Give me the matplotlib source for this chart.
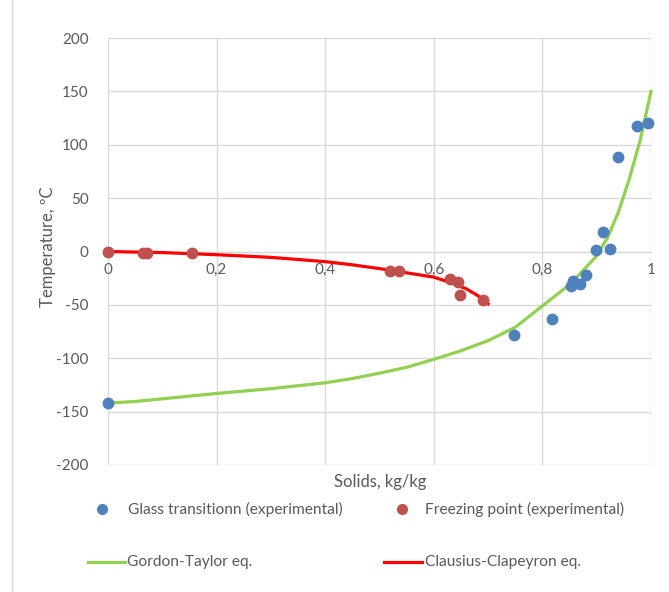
import matplotlib
matplotlib.use("Agg")
import matplotlib.pyplot as plt
from matplotlib.lines import Line2D
from matplotlib.ticker import FuncFormatter

# Experimental data
glass_x = [0.0, 0.748, 0.818, 0.852, 0.857, 0.869, 0.880, 0.899, 0.912, 0.924, 0.940, 0.974, 0.994]
glass_y = [-142, -78, -63, -32, -27.6, -30.7, -21.7, 1, 18.3, 2.6, 88.5, 118, 120]

freeze_x = [0.0, 0.065, 0.071, 0.154, 0.519, 0.535, 0.630, 0.645, 0.648, 0.690]
freeze_y = [-0.8, -1.5, -1.7, -1.7, -18, -18, -26, -29, -40.7, -45.4]

# Model curves
gt_x = [0.0, 0.05, 0.1, 0.2, 0.3, 0.4, 0.45, 0.5, 0.55, 0.6, 0.65, 0.7, 0.75, 0.8, 0.85,
        0.88, 0.9, 0.92, 0.94, 0.96, 0.98, 1.0]
gt_y = [-142, -140.5, -138, -133, -128.5, -123, -119, -114, -108.5, -101, -93, -83.5, -71, -51, -31,
        -15, -4, 13, 37, 68, 104, 150]

cc_x = [0.0, 0.1, 0.2, 0.3, 0.4, 0.45, 0.5, 0.55, 0.6, 0.63, 0.66, 0.68, 0.70]
cc_y = [0, -1, -3, -5.5, -9.5, -12.5, -16, -20, -24, -29, -35, -41, -49]

x_ticks = [0, 0.2, 0.4, 0.6, 0.8, 1.0]
y_ticks = [-200, -150, -100, -50, 0, 50, 100, 150, 200]

plt.rcParams['font.family'] = ['Lato', 'DejaVu Sans']
plt.rcParams['axes.unicode_minus'] = False

W, H = 669, 592
fig = plt.figure(figsize=(W / 100, H / 100), dpi=100)
ax = fig.add_axes([108 / W, 1 - 465 / H, (651 - 108) / W, (465 - 38) / H])

grid_c = '#D9D9D9'
text_c = '#595959'
blue = '#4F81BD'
redp = '#C0504D'
green = '#92D050'
red = '#FF0000'

ax.set_xlim(0, 1)
ax.set_ylim(-200, 200)
ax.set_xticks(x_ticks)
ax.set_yticks(y_ticks)
ax.grid(True, color=grid_c, linewidth=1)
ax.set_axisbelow(True)
for s in ['top', 'right', 'left']:
    ax.spines[s].set_visible(False)
ax.spines['bottom'].set_position(('data', 0))
ax.spines['bottom'].set_color(grid_c)
ax.tick_params(axis='both', length=0, labelsize=11, labelcolor=text_c)
ax.tick_params(axis='x', pad=8)
ax.tick_params(axis='y', pad=14)
ax.xaxis.set_major_formatter(FuncFormatter(lambda v, p: ('%g' % v).replace('.', ',')))

ax.plot(gt_x, gt_y, color=green, linewidth=2.3, zorder=3, clip_on=False)
ax.plot(cc_x, cc_y, color=red, linewidth=2.3, zorder=3, clip_on=False)
ax.plot(glass_x, glass_y, 'o', color=blue, markersize=7.5, zorder=4, clip_on=False)
ax.plot(freeze_x, freeze_y, 'o', color=redp, markersize=7.5, zorder=4, clip_on=False)

fig.text(380 / W, 1 - 482 / H, 'Solids, kg/kg', ha='center', va='center',
         fontsize=12, color=text_c)
fig.text(48 / W, 1 - 247 / H, 'Temperature, ºC', ha='center', va='center',
         rotation=90, fontsize=12, color=text_c)

# Manual legend
def fx(px):
    return px / W

def fy(py):
    return 1 - py / H

fig.add_artist(Line2D([fx(102)], [fy(509)], marker='o', color=blue, markersize=7,
                      linestyle='none', transform=fig.transFigure))
fig.text(fx(128), fy(509), 'Glass transitionn (experimental)', ha='left', va='center',
         fontsize=11.2, color=text_c)
fig.add_artist(Line2D([fx(402)], [fy(509)], marker='o', color=redp, markersize=7,
                      linestyle='none', transform=fig.transFigure))
fig.text(fx(425), fy(509), 'Freezing point (experimental)', ha='left', va='center',
         fontsize=11.2, color=text_c)
fig.add_artist(Line2D([fx(88), fx(125)], [fy(562), fy(562)], color=green, linewidth=2.3,
                      transform=fig.transFigure))
fig.text(fx(127), fy(562), 'Gordon-Taylor eq.', ha='left', va='center',
         fontsize=11.2, color=text_c)
fig.add_artist(Line2D([fx(384), fx(422)], [fy(562), fy(562)], color=red, linewidth=2.3,
                      transform=fig.transFigure))
fig.text(fx(425), fy(562), 'Clausius-Clapeyron eq.', ha='left', va='center',
         fontsize=11.2, color=text_c)

# chart border at left
fig.add_artist(Line2D([fx(12), fx(12)], [0, 1], color=grid_c, linewidth=1,
                      transform=fig.transFigure))

fig.savefig('out.png', dpi=100, facecolor='white')
